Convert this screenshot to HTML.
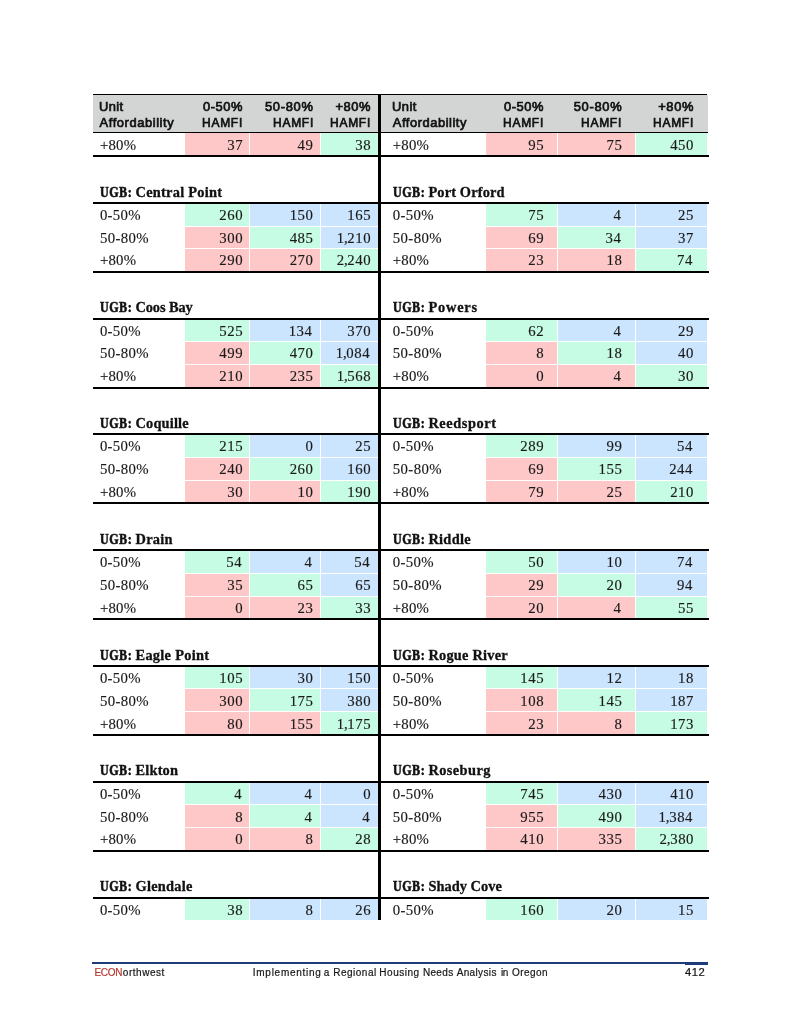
<!DOCTYPE html>
<html><head><meta charset="utf-8"><title>page 412</title>
<style>
html,body{margin:0;padding:0;background:#fff}
body{width:800px;height:1035px;position:relative;overflow:hidden;font-family:"Liberation Serif",serif;color:#1a1a1a}
#pg{position:absolute;left:0;top:0;width:800px;height:1035px;will-change:transform}
.b{position:absolute}
.t{position:absolute;white-space:nowrap;line-height:0;height:0}
.n{font-size:14.8px;-webkit-text-stroke:0.15px #1a1a1a}
.hd{font-size:14.4px;font-weight:bold;color:#111;-webkit-text-stroke:0.3px #111}
.hl{-webkit-text-stroke:0.35px #111}
.c{margin-left:-0.9px;margin-right:-0.8px}
.u{-webkit-text-stroke:0.6px #111}
.h{font-family:"Liberation Sans",sans-serif;font-size:12.9px;color:#111;-webkit-text-stroke:0.7px #111}
.f{font-family:"Liberation Sans",sans-serif;font-size:10.0px;color:#161616;-webkit-text-stroke:0.2px #161616}
.f span{-webkit-text-stroke:0.2px #b5382e}
</style></head><body><div id="pg">
<div class="b" style="left:93.00px;top:94.00px;width:285.00px;height:1.00px;background:#000"></div>
<div class="b" style="left:93.00px;top:95.00px;width:285.00px;height:37.00px;background:#d3d4d4"></div>
<div class="b" style="left:93.00px;top:132.00px;width:285.00px;height:1.00px;background:#000"></div>
<div class="b" style="left:185.00px;top:133.00px;width:64.00px;height:21.60px;background:#ffc8c8"></div>
<div class="b" style="left:250.00px;top:133.00px;width:70.00px;height:21.60px;background:#ffc8c8"></div>
<div class="b" style="left:321.00px;top:133.00px;width:57.00px;height:21.60px;background:#c6fce3"></div>
<div class="b" style="left:93.00px;top:155.00px;width:285.00px;height:2.00px;background:#000"></div>
<div class="b" style="left:93.00px;top:202.00px;width:285.00px;height:2.00px;background:#000"></div>
<div class="b" style="left:185.00px;top:204.00px;width:64.00px;height:22.00px;background:#c6fce3"></div>
<div class="b" style="left:250.00px;top:204.00px;width:70.00px;height:22.00px;background:#cce5ff"></div>
<div class="b" style="left:321.00px;top:204.00px;width:57.00px;height:22.00px;background:#cce5ff"></div>
<div class="b" style="left:185.00px;top:227.00px;width:64.00px;height:21.00px;background:#ffc8c8"></div>
<div class="b" style="left:250.00px;top:227.00px;width:70.00px;height:21.00px;background:#c6fce3"></div>
<div class="b" style="left:321.00px;top:227.00px;width:57.00px;height:21.00px;background:#cce5ff"></div>
<div class="b" style="left:185.00px;top:249.00px;width:64.00px;height:22.00px;background:#ffc8c8"></div>
<div class="b" style="left:250.00px;top:249.00px;width:70.00px;height:22.00px;background:#ffc8c8"></div>
<div class="b" style="left:321.00px;top:249.00px;width:57.00px;height:22.00px;background:#c6fce3"></div>
<div class="b" style="left:93.00px;top:271.00px;width:285.00px;height:2.00px;background:#000"></div>
<div class="b" style="left:93.00px;top:318.00px;width:285.00px;height:2.00px;background:#000"></div>
<div class="b" style="left:185.00px;top:320.00px;width:64.00px;height:21.00px;background:#c6fce3"></div>
<div class="b" style="left:250.00px;top:320.00px;width:70.00px;height:21.00px;background:#cce5ff"></div>
<div class="b" style="left:321.00px;top:320.00px;width:57.00px;height:21.00px;background:#cce5ff"></div>
<div class="b" style="left:185.00px;top:342.00px;width:64.00px;height:22.00px;background:#ffc8c8"></div>
<div class="b" style="left:250.00px;top:342.00px;width:70.00px;height:22.00px;background:#c6fce3"></div>
<div class="b" style="left:321.00px;top:342.00px;width:57.00px;height:22.00px;background:#cce5ff"></div>
<div class="b" style="left:185.00px;top:365.00px;width:64.00px;height:22.00px;background:#ffc8c8"></div>
<div class="b" style="left:250.00px;top:365.00px;width:70.00px;height:22.00px;background:#ffc8c8"></div>
<div class="b" style="left:321.00px;top:365.00px;width:57.00px;height:22.00px;background:#c6fce3"></div>
<div class="b" style="left:93.00px;top:387.00px;width:285.00px;height:2.00px;background:#000"></div>
<div class="b" style="left:93.00px;top:433.00px;width:285.00px;height:2.00px;background:#000"></div>
<div class="b" style="left:185.00px;top:435.00px;width:64.00px;height:22.00px;background:#c6fce3"></div>
<div class="b" style="left:250.00px;top:435.00px;width:70.00px;height:22.00px;background:#cce5ff"></div>
<div class="b" style="left:321.00px;top:435.00px;width:57.00px;height:22.00px;background:#cce5ff"></div>
<div class="b" style="left:185.00px;top:458.00px;width:64.00px;height:22.00px;background:#ffc8c8"></div>
<div class="b" style="left:250.00px;top:458.00px;width:70.00px;height:22.00px;background:#c6fce3"></div>
<div class="b" style="left:321.00px;top:458.00px;width:57.00px;height:22.00px;background:#cce5ff"></div>
<div class="b" style="left:185.00px;top:481.00px;width:64.00px;height:21.00px;background:#ffc8c8"></div>
<div class="b" style="left:250.00px;top:481.00px;width:70.00px;height:21.00px;background:#ffc8c8"></div>
<div class="b" style="left:321.00px;top:481.00px;width:57.00px;height:21.00px;background:#c6fce3"></div>
<div class="b" style="left:93.00px;top:502.00px;width:285.00px;height:2.00px;background:#000"></div>
<div class="b" style="left:93.00px;top:549.00px;width:285.00px;height:2.00px;background:#000"></div>
<div class="b" style="left:185.00px;top:551.00px;width:64.00px;height:22.00px;background:#c6fce3"></div>
<div class="b" style="left:250.00px;top:551.00px;width:70.00px;height:22.00px;background:#cce5ff"></div>
<div class="b" style="left:321.00px;top:551.00px;width:57.00px;height:22.00px;background:#cce5ff"></div>
<div class="b" style="left:185.00px;top:574.00px;width:64.00px;height:22.00px;background:#ffc8c8"></div>
<div class="b" style="left:250.00px;top:574.00px;width:70.00px;height:22.00px;background:#c6fce3"></div>
<div class="b" style="left:321.00px;top:574.00px;width:57.00px;height:22.00px;background:#cce5ff"></div>
<div class="b" style="left:185.00px;top:597.00px;width:64.00px;height:21.00px;background:#ffc8c8"></div>
<div class="b" style="left:250.00px;top:597.00px;width:70.00px;height:21.00px;background:#ffc8c8"></div>
<div class="b" style="left:321.00px;top:597.00px;width:57.00px;height:21.00px;background:#c6fce3"></div>
<div class="b" style="left:93.00px;top:618.00px;width:285.00px;height:2.00px;background:#000"></div>
<div class="b" style="left:93.00px;top:665.00px;width:285.00px;height:2.00px;background:#000"></div>
<div class="b" style="left:185.00px;top:667.00px;width:64.00px;height:21.00px;background:#c6fce3"></div>
<div class="b" style="left:250.00px;top:667.00px;width:70.00px;height:21.00px;background:#cce5ff"></div>
<div class="b" style="left:321.00px;top:667.00px;width:57.00px;height:21.00px;background:#cce5ff"></div>
<div class="b" style="left:185.00px;top:689.00px;width:64.00px;height:22.00px;background:#ffc8c8"></div>
<div class="b" style="left:250.00px;top:689.00px;width:70.00px;height:22.00px;background:#c6fce3"></div>
<div class="b" style="left:321.00px;top:689.00px;width:57.00px;height:22.00px;background:#cce5ff"></div>
<div class="b" style="left:185.00px;top:712.00px;width:64.00px;height:22.00px;background:#ffc8c8"></div>
<div class="b" style="left:250.00px;top:712.00px;width:70.00px;height:22.00px;background:#ffc8c8"></div>
<div class="b" style="left:321.00px;top:712.00px;width:57.00px;height:22.00px;background:#c6fce3"></div>
<div class="b" style="left:93.00px;top:734.00px;width:285.00px;height:2.00px;background:#000"></div>
<div class="b" style="left:93.00px;top:781.00px;width:285.00px;height:2.00px;background:#000"></div>
<div class="b" style="left:185.00px;top:783.00px;width:64.00px;height:21.00px;background:#c6fce3"></div>
<div class="b" style="left:250.00px;top:783.00px;width:70.00px;height:21.00px;background:#cce5ff"></div>
<div class="b" style="left:321.00px;top:783.00px;width:57.00px;height:21.00px;background:#cce5ff"></div>
<div class="b" style="left:185.00px;top:805.00px;width:64.00px;height:22.00px;background:#ffc8c8"></div>
<div class="b" style="left:250.00px;top:805.00px;width:70.00px;height:22.00px;background:#c6fce3"></div>
<div class="b" style="left:321.00px;top:805.00px;width:57.00px;height:22.00px;background:#cce5ff"></div>
<div class="b" style="left:185.00px;top:828.00px;width:64.00px;height:22.00px;background:#ffc8c8"></div>
<div class="b" style="left:250.00px;top:828.00px;width:70.00px;height:22.00px;background:#ffc8c8"></div>
<div class="b" style="left:321.00px;top:828.00px;width:57.00px;height:22.00px;background:#c6fce3"></div>
<div class="b" style="left:93.00px;top:850.00px;width:285.00px;height:2.00px;background:#000"></div>
<div class="b" style="left:93.00px;top:897.00px;width:285.00px;height:2.00px;background:#000"></div>
<div class="b" style="left:185.00px;top:899.00px;width:64.00px;height:21.00px;background:#c6fce3"></div>
<div class="b" style="left:250.00px;top:899.00px;width:70.00px;height:21.00px;background:#cce5ff"></div>
<div class="b" style="left:321.00px;top:899.00px;width:57.00px;height:21.00px;background:#cce5ff"></div>
<div class="b" style="left:381.00px;top:94.00px;width:326.00px;height:1.00px;background:#000"></div>
<div class="b" style="left:381.00px;top:95.00px;width:327.00px;height:37.00px;background:#d3d4d4"></div>
<div class="b" style="left:381.00px;top:132.00px;width:327.00px;height:1.00px;background:#000"></div>
<div class="b" style="left:486.00px;top:133.00px;width:71.00px;height:21.60px;background:#ffc8c8"></div>
<div class="b" style="left:558.00px;top:133.00px;width:77.00px;height:21.60px;background:#ffc8c8"></div>
<div class="b" style="left:636.00px;top:133.00px;width:71.00px;height:21.60px;background:#c6fce3"></div>
<div class="b" style="left:381.00px;top:155.00px;width:328.00px;height:2.00px;background:#000"></div>
<div class="b" style="left:381.00px;top:202.00px;width:328.00px;height:2.00px;background:#000"></div>
<div class="b" style="left:486.00px;top:204.00px;width:71.00px;height:22.00px;background:#c6fce3"></div>
<div class="b" style="left:558.00px;top:204.00px;width:77.00px;height:22.00px;background:#cce5ff"></div>
<div class="b" style="left:636.00px;top:204.00px;width:71.00px;height:22.00px;background:#cce5ff"></div>
<div class="b" style="left:486.00px;top:227.00px;width:71.00px;height:21.00px;background:#ffc8c8"></div>
<div class="b" style="left:558.00px;top:227.00px;width:77.00px;height:21.00px;background:#c6fce3"></div>
<div class="b" style="left:636.00px;top:227.00px;width:71.00px;height:21.00px;background:#cce5ff"></div>
<div class="b" style="left:486.00px;top:249.00px;width:71.00px;height:22.00px;background:#ffc8c8"></div>
<div class="b" style="left:558.00px;top:249.00px;width:77.00px;height:22.00px;background:#ffc8c8"></div>
<div class="b" style="left:636.00px;top:249.00px;width:71.00px;height:22.00px;background:#c6fce3"></div>
<div class="b" style="left:381.00px;top:271.00px;width:328.00px;height:2.00px;background:#000"></div>
<div class="b" style="left:381.00px;top:318.00px;width:328.00px;height:2.00px;background:#000"></div>
<div class="b" style="left:486.00px;top:320.00px;width:71.00px;height:21.00px;background:#c6fce3"></div>
<div class="b" style="left:558.00px;top:320.00px;width:77.00px;height:21.00px;background:#cce5ff"></div>
<div class="b" style="left:636.00px;top:320.00px;width:71.00px;height:21.00px;background:#cce5ff"></div>
<div class="b" style="left:486.00px;top:342.00px;width:71.00px;height:22.00px;background:#ffc8c8"></div>
<div class="b" style="left:558.00px;top:342.00px;width:77.00px;height:22.00px;background:#c6fce3"></div>
<div class="b" style="left:636.00px;top:342.00px;width:71.00px;height:22.00px;background:#cce5ff"></div>
<div class="b" style="left:486.00px;top:365.00px;width:71.00px;height:22.00px;background:#ffc8c8"></div>
<div class="b" style="left:558.00px;top:365.00px;width:77.00px;height:22.00px;background:#ffc8c8"></div>
<div class="b" style="left:636.00px;top:365.00px;width:71.00px;height:22.00px;background:#c6fce3"></div>
<div class="b" style="left:381.00px;top:387.00px;width:328.00px;height:2.00px;background:#000"></div>
<div class="b" style="left:381.00px;top:433.00px;width:328.00px;height:2.00px;background:#000"></div>
<div class="b" style="left:486.00px;top:435.00px;width:71.00px;height:22.00px;background:#c6fce3"></div>
<div class="b" style="left:558.00px;top:435.00px;width:77.00px;height:22.00px;background:#cce5ff"></div>
<div class="b" style="left:636.00px;top:435.00px;width:71.00px;height:22.00px;background:#cce5ff"></div>
<div class="b" style="left:486.00px;top:458.00px;width:71.00px;height:22.00px;background:#ffc8c8"></div>
<div class="b" style="left:558.00px;top:458.00px;width:77.00px;height:22.00px;background:#c6fce3"></div>
<div class="b" style="left:636.00px;top:458.00px;width:71.00px;height:22.00px;background:#cce5ff"></div>
<div class="b" style="left:486.00px;top:481.00px;width:71.00px;height:21.00px;background:#ffc8c8"></div>
<div class="b" style="left:558.00px;top:481.00px;width:77.00px;height:21.00px;background:#ffc8c8"></div>
<div class="b" style="left:636.00px;top:481.00px;width:71.00px;height:21.00px;background:#c6fce3"></div>
<div class="b" style="left:381.00px;top:502.00px;width:328.00px;height:2.00px;background:#000"></div>
<div class="b" style="left:381.00px;top:549.00px;width:328.00px;height:2.00px;background:#000"></div>
<div class="b" style="left:486.00px;top:551.00px;width:71.00px;height:22.00px;background:#c6fce3"></div>
<div class="b" style="left:558.00px;top:551.00px;width:77.00px;height:22.00px;background:#cce5ff"></div>
<div class="b" style="left:636.00px;top:551.00px;width:71.00px;height:22.00px;background:#cce5ff"></div>
<div class="b" style="left:486.00px;top:574.00px;width:71.00px;height:22.00px;background:#ffc8c8"></div>
<div class="b" style="left:558.00px;top:574.00px;width:77.00px;height:22.00px;background:#c6fce3"></div>
<div class="b" style="left:636.00px;top:574.00px;width:71.00px;height:22.00px;background:#cce5ff"></div>
<div class="b" style="left:486.00px;top:597.00px;width:71.00px;height:21.00px;background:#ffc8c8"></div>
<div class="b" style="left:558.00px;top:597.00px;width:77.00px;height:21.00px;background:#ffc8c8"></div>
<div class="b" style="left:636.00px;top:597.00px;width:71.00px;height:21.00px;background:#c6fce3"></div>
<div class="b" style="left:381.00px;top:618.00px;width:328.00px;height:2.00px;background:#000"></div>
<div class="b" style="left:381.00px;top:665.00px;width:328.00px;height:2.00px;background:#000"></div>
<div class="b" style="left:486.00px;top:667.00px;width:71.00px;height:21.00px;background:#c6fce3"></div>
<div class="b" style="left:558.00px;top:667.00px;width:77.00px;height:21.00px;background:#cce5ff"></div>
<div class="b" style="left:636.00px;top:667.00px;width:71.00px;height:21.00px;background:#cce5ff"></div>
<div class="b" style="left:486.00px;top:689.00px;width:71.00px;height:22.00px;background:#ffc8c8"></div>
<div class="b" style="left:558.00px;top:689.00px;width:77.00px;height:22.00px;background:#c6fce3"></div>
<div class="b" style="left:636.00px;top:689.00px;width:71.00px;height:22.00px;background:#cce5ff"></div>
<div class="b" style="left:486.00px;top:712.00px;width:71.00px;height:22.00px;background:#ffc8c8"></div>
<div class="b" style="left:558.00px;top:712.00px;width:77.00px;height:22.00px;background:#ffc8c8"></div>
<div class="b" style="left:636.00px;top:712.00px;width:71.00px;height:22.00px;background:#c6fce3"></div>
<div class="b" style="left:381.00px;top:734.00px;width:328.00px;height:2.00px;background:#000"></div>
<div class="b" style="left:381.00px;top:781.00px;width:328.00px;height:2.00px;background:#000"></div>
<div class="b" style="left:486.00px;top:783.00px;width:71.00px;height:21.00px;background:#c6fce3"></div>
<div class="b" style="left:558.00px;top:783.00px;width:77.00px;height:21.00px;background:#cce5ff"></div>
<div class="b" style="left:636.00px;top:783.00px;width:71.00px;height:21.00px;background:#cce5ff"></div>
<div class="b" style="left:486.00px;top:805.00px;width:71.00px;height:22.00px;background:#ffc8c8"></div>
<div class="b" style="left:558.00px;top:805.00px;width:77.00px;height:22.00px;background:#c6fce3"></div>
<div class="b" style="left:636.00px;top:805.00px;width:71.00px;height:22.00px;background:#cce5ff"></div>
<div class="b" style="left:486.00px;top:828.00px;width:71.00px;height:22.00px;background:#ffc8c8"></div>
<div class="b" style="left:558.00px;top:828.00px;width:77.00px;height:22.00px;background:#ffc8c8"></div>
<div class="b" style="left:636.00px;top:828.00px;width:71.00px;height:22.00px;background:#c6fce3"></div>
<div class="b" style="left:381.00px;top:850.00px;width:328.00px;height:2.00px;background:#000"></div>
<div class="b" style="left:381.00px;top:897.00px;width:328.00px;height:2.00px;background:#000"></div>
<div class="b" style="left:486.00px;top:899.00px;width:71.00px;height:21.00px;background:#c6fce3"></div>
<div class="b" style="left:558.00px;top:899.00px;width:77.00px;height:21.00px;background:#cce5ff"></div>
<div class="b" style="left:636.00px;top:899.00px;width:71.00px;height:21.00px;background:#cce5ff"></div>
<div class="b" style="left:378.00px;top:94.00px;width:3.00px;height:826.00px;background:#000"></div>
<div class="b" style="left:92.00px;top:962.00px;width:616.00px;height:1.50px;background:#1f3c7a"></div>
<div class="b" style="left:685.00px;top:962.00px;width:23.00px;height:3.00px;background:#1f3c7a"></div>
<div class="t h" style="left:98.90px;top:107.03px;letter-spacing:0.453px">Unit</div>
<div class="t h" style="left:99.50px;top:123.03px;letter-spacing:0.590px">Affordability</div>
<div class="t h hl" style="left:203.00px;top:107.03px;letter-spacing:0.550px">0-50%</div>
<div class="t h" style="left:202.27px;top:123.03px;transform:scaleX(0.93);transform-origin:0 0;letter-spacing:0.800px">HAMFI</div>
<div class="t h hl" style="left:264.90px;top:107.03px;letter-spacing:0.706px">50-80%</div>
<div class="t h" style="left:272.67px;top:123.03px;transform:scaleX(0.93);transform-origin:0 0;letter-spacing:0.800px">HAMFI</div>
<div class="t h hl" style="left:335.45px;top:107.03px;letter-spacing:0.595px">+80%</div>
<div class="t h" style="left:330.37px;top:123.03px;transform:scaleX(0.93);transform-origin:0 0;letter-spacing:0.800px">HAMFI</div>
<div class="t n" style="left:227.22px;top:145.00px;letter-spacing:0.580px">37</div>
<div class="t n" style="left:297.62px;top:145.00px;letter-spacing:0.580px">49</div>
<div class="t n" style="left:355.32px;top:145.00px;letter-spacing:0.580px">38</div>
<div class="t n" style="left:99.90px;top:145.00px;letter-spacing:0.219px">+80%</div>
<div class="t hd u" style="left:99.90px;top:192.14px;transform:scaleX(0.84);transform-origin:0 0;letter-spacing:0.573px">UGB:</div>
<div class="t hd" style="left:135.50px;top:192.14px;letter-spacing:0.251px">Central Point</div>
<div class="t n" style="left:219.24px;top:215.00px;letter-spacing:0.580px">260</div>
<div class="t n" style="left:289.64px;top:215.00px;letter-spacing:0.580px">150</div>
<div class="t n" style="left:347.34px;top:215.00px;letter-spacing:0.580px">165</div>
<div class="t n" style="left:99.90px;top:215.00px;letter-spacing:0.319px">0-50%</div>
<div class="t n" style="left:219.24px;top:238.00px;letter-spacing:0.580px">300</div>
<div class="t n" style="left:289.64px;top:238.00px;letter-spacing:0.580px">485</div>
<div class="t n" style="left:336.79px;top:238.00px;letter-spacing:0.580px">1<span class="c">,</span>210</div>
<div class="t n" style="left:99.90px;top:238.00px;letter-spacing:0.376px">50-80%</div>
<div class="t n" style="left:219.24px;top:260.00px;letter-spacing:0.580px">290</div>
<div class="t n" style="left:289.64px;top:260.00px;letter-spacing:0.580px">270</div>
<div class="t n" style="left:336.79px;top:260.00px;letter-spacing:0.580px">2<span class="c">,</span>240</div>
<div class="t n" style="left:99.90px;top:260.00px;letter-spacing:0.219px">+80%</div>
<div class="t hd u" style="left:99.90px;top:307.14px;transform:scaleX(0.84);transform-origin:0 0;letter-spacing:0.573px">UGB:</div>
<div class="t hd" style="left:135.50px;top:307.14px;letter-spacing:-0.111px">Coos Bay</div>
<div class="t n" style="left:219.24px;top:331.00px;letter-spacing:0.580px">525</div>
<div class="t n" style="left:288.64px;top:331.00px;letter-spacing:0.580px">134</div>
<div class="t n" style="left:347.34px;top:331.00px;letter-spacing:0.580px">370</div>
<div class="t n" style="left:99.90px;top:331.00px;letter-spacing:0.319px">0-50%</div>
<div class="t n" style="left:219.24px;top:353.00px;letter-spacing:0.580px">499</div>
<div class="t n" style="left:289.64px;top:353.00px;letter-spacing:0.580px">470</div>
<div class="t n" style="left:335.79px;top:353.00px;letter-spacing:0.580px">1<span class="c">,</span>084</div>
<div class="t n" style="left:99.90px;top:353.00px;letter-spacing:0.376px">50-80%</div>
<div class="t n" style="left:219.24px;top:376.00px;letter-spacing:0.580px">210</div>
<div class="t n" style="left:289.64px;top:376.00px;letter-spacing:0.580px">235</div>
<div class="t n" style="left:336.79px;top:376.00px;letter-spacing:0.580px">1<span class="c">,</span>568</div>
<div class="t n" style="left:99.90px;top:376.00px;letter-spacing:0.219px">+80%</div>
<div class="t hd u" style="left:99.90px;top:423.14px;transform:scaleX(0.84);transform-origin:0 0;letter-spacing:0.573px">UGB:</div>
<div class="t hd" style="left:135.50px;top:423.14px;letter-spacing:0.166px">Coquille</div>
<div class="t n" style="left:219.24px;top:446.00px;letter-spacing:0.580px">215</div>
<div class="t n" style="left:305.60px;top:446.00px;letter-spacing:0.580px">0</div>
<div class="t n" style="left:355.32px;top:446.00px;letter-spacing:0.580px">25</div>
<div class="t n" style="left:99.90px;top:446.00px;letter-spacing:0.319px">0-50%</div>
<div class="t n" style="left:219.24px;top:469.00px;letter-spacing:0.580px">240</div>
<div class="t n" style="left:289.64px;top:469.00px;letter-spacing:0.580px">260</div>
<div class="t n" style="left:347.34px;top:469.00px;letter-spacing:0.580px">160</div>
<div class="t n" style="left:99.90px;top:469.00px;letter-spacing:0.376px">50-80%</div>
<div class="t n" style="left:227.22px;top:492.00px;letter-spacing:0.580px">30</div>
<div class="t n" style="left:297.62px;top:492.00px;letter-spacing:0.580px">10</div>
<div class="t n" style="left:347.34px;top:492.00px;letter-spacing:0.580px">190</div>
<div class="t n" style="left:99.90px;top:492.00px;letter-spacing:0.219px">+80%</div>
<div class="t hd u" style="left:99.90px;top:539.14px;transform:scaleX(0.84);transform-origin:0 0;letter-spacing:0.573px">UGB:</div>
<div class="t hd" style="left:135.50px;top:539.14px;letter-spacing:0.257px">Drain</div>
<div class="t n" style="left:226.22px;top:562.00px;letter-spacing:0.580px">54</div>
<div class="t n" style="left:304.60px;top:562.00px;letter-spacing:0.580px">4</div>
<div class="t n" style="left:354.32px;top:562.00px;letter-spacing:0.580px">54</div>
<div class="t n" style="left:99.90px;top:562.00px;letter-spacing:0.319px">0-50%</div>
<div class="t n" style="left:227.22px;top:585.00px;letter-spacing:0.580px">35</div>
<div class="t n" style="left:297.62px;top:585.00px;letter-spacing:0.580px">65</div>
<div class="t n" style="left:355.32px;top:585.00px;letter-spacing:0.580px">65</div>
<div class="t n" style="left:99.90px;top:585.00px;letter-spacing:0.376px">50-80%</div>
<div class="t n" style="left:235.20px;top:608.00px;letter-spacing:0.580px">0</div>
<div class="t n" style="left:297.62px;top:608.00px;letter-spacing:0.580px">23</div>
<div class="t n" style="left:355.32px;top:608.00px;letter-spacing:0.580px">33</div>
<div class="t n" style="left:99.90px;top:608.00px;letter-spacing:0.219px">+80%</div>
<div class="t hd u" style="left:99.90px;top:655.14px;transform:scaleX(0.84);transform-origin:0 0;letter-spacing:0.573px">UGB:</div>
<div class="t hd" style="left:135.50px;top:655.14px;letter-spacing:0.279px">Eagle Point</div>
<div class="t n" style="left:219.24px;top:678.00px;letter-spacing:0.580px">105</div>
<div class="t n" style="left:297.62px;top:678.00px;letter-spacing:0.580px">30</div>
<div class="t n" style="left:347.34px;top:678.00px;letter-spacing:0.580px">150</div>
<div class="t n" style="left:99.90px;top:678.00px;letter-spacing:0.319px">0-50%</div>
<div class="t n" style="left:219.24px;top:701.00px;letter-spacing:0.580px">300</div>
<div class="t n" style="left:289.64px;top:701.00px;letter-spacing:0.580px">175</div>
<div class="t n" style="left:347.34px;top:701.00px;letter-spacing:0.580px">380</div>
<div class="t n" style="left:99.90px;top:701.00px;letter-spacing:0.376px">50-80%</div>
<div class="t n" style="left:227.22px;top:724.00px;letter-spacing:0.580px">80</div>
<div class="t n" style="left:289.64px;top:724.00px;letter-spacing:0.580px">155</div>
<div class="t n" style="left:336.79px;top:724.00px;letter-spacing:0.580px">1<span class="c">,</span>175</div>
<div class="t n" style="left:99.90px;top:724.00px;letter-spacing:0.219px">+80%</div>
<div class="t hd u" style="left:99.90px;top:770.14px;transform:scaleX(0.84);transform-origin:0 0;letter-spacing:0.573px">UGB:</div>
<div class="t hd" style="left:135.50px;top:770.14px;letter-spacing:0.182px">Elkton</div>
<div class="t n" style="left:234.20px;top:794.00px;letter-spacing:0.580px">4</div>
<div class="t n" style="left:304.60px;top:794.00px;letter-spacing:0.580px">4</div>
<div class="t n" style="left:363.30px;top:794.00px;letter-spacing:0.580px">0</div>
<div class="t n" style="left:99.90px;top:794.00px;letter-spacing:0.319px">0-50%</div>
<div class="t n" style="left:235.20px;top:817.00px;letter-spacing:0.580px">8</div>
<div class="t n" style="left:304.60px;top:817.00px;letter-spacing:0.580px">4</div>
<div class="t n" style="left:362.30px;top:817.00px;letter-spacing:0.580px">4</div>
<div class="t n" style="left:99.90px;top:817.00px;letter-spacing:0.376px">50-80%</div>
<div class="t n" style="left:235.20px;top:839.00px;letter-spacing:0.580px">0</div>
<div class="t n" style="left:305.60px;top:839.00px;letter-spacing:0.580px">8</div>
<div class="t n" style="left:355.32px;top:839.00px;letter-spacing:0.580px">28</div>
<div class="t n" style="left:99.90px;top:839.00px;letter-spacing:0.219px">+80%</div>
<div class="t hd u" style="left:99.90px;top:886.14px;transform:scaleX(0.84);transform-origin:0 0;letter-spacing:0.573px">UGB:</div>
<div class="t hd" style="left:135.50px;top:886.14px;letter-spacing:0.246px">Glendale</div>
<div class="t n" style="left:227.22px;top:910.00px;letter-spacing:0.580px">38</div>
<div class="t n" style="left:305.60px;top:910.00px;letter-spacing:0.580px">8</div>
<div class="t n" style="left:355.32px;top:910.00px;letter-spacing:0.580px">26</div>
<div class="t n" style="left:99.90px;top:910.00px;letter-spacing:0.319px">0-50%</div>
<div class="t h" style="left:392.00px;top:107.03px;letter-spacing:0.469px">Unit</div>
<div class="t h" style="left:392.75px;top:123.03px;letter-spacing:0.548px">Affordability</div>
<div class="t h hl" style="left:504.00px;top:107.03px;letter-spacing:0.550px">0-50%</div>
<div class="t h" style="left:503.27px;top:123.03px;transform:scaleX(0.93);transform-origin:0 0;letter-spacing:0.800px">HAMFI</div>
<div class="t h hl" style="left:573.70px;top:107.03px;letter-spacing:0.706px">50-80%</div>
<div class="t h" style="left:581.47px;top:123.03px;transform:scaleX(0.93);transform-origin:0 0;letter-spacing:0.800px">HAMFI</div>
<div class="t h hl" style="left:658.25px;top:107.03px;letter-spacing:0.595px">+80%</div>
<div class="t h" style="left:653.17px;top:123.03px;transform:scaleX(0.93);transform-origin:0 0;letter-spacing:0.800px">HAMFI</div>
<div class="t n" style="left:528.22px;top:145.00px;letter-spacing:0.580px">95</div>
<div class="t n" style="left:606.42px;top:145.00px;letter-spacing:0.580px">75</div>
<div class="t n" style="left:670.14px;top:145.00px;letter-spacing:0.580px">450</div>
<div class="t n" style="left:392.80px;top:145.00px;letter-spacing:0.219px">+80%</div>
<div class="t hd u" style="left:392.80px;top:192.14px;transform:scaleX(0.84);transform-origin:0 0;letter-spacing:0.573px">UGB:</div>
<div class="t hd" style="left:428.40px;top:192.14px;letter-spacing:0.138px">Port Orford</div>
<div class="t n" style="left:528.22px;top:215.00px;letter-spacing:0.580px">75</div>
<div class="t n" style="left:613.40px;top:215.00px;letter-spacing:0.580px">4</div>
<div class="t n" style="left:678.12px;top:215.00px;letter-spacing:0.580px">25</div>
<div class="t n" style="left:392.80px;top:215.00px;letter-spacing:0.319px">0-50%</div>
<div class="t n" style="left:528.22px;top:238.00px;letter-spacing:0.580px">69</div>
<div class="t n" style="left:605.42px;top:238.00px;letter-spacing:0.580px">34</div>
<div class="t n" style="left:678.12px;top:238.00px;letter-spacing:0.580px">37</div>
<div class="t n" style="left:392.80px;top:238.00px;letter-spacing:0.376px">50-80%</div>
<div class="t n" style="left:528.22px;top:260.00px;letter-spacing:0.580px">23</div>
<div class="t n" style="left:606.42px;top:260.00px;letter-spacing:0.580px">18</div>
<div class="t n" style="left:677.12px;top:260.00px;letter-spacing:0.580px">74</div>
<div class="t n" style="left:392.80px;top:260.00px;letter-spacing:0.219px">+80%</div>
<div class="t hd u" style="left:392.80px;top:307.14px;transform:scaleX(0.84);transform-origin:0 0;letter-spacing:0.573px">UGB:</div>
<div class="t hd" style="left:428.40px;top:307.14px;letter-spacing:0.789px">Powers</div>
<div class="t n" style="left:528.22px;top:331.00px;letter-spacing:0.580px">62</div>
<div class="t n" style="left:613.40px;top:331.00px;letter-spacing:0.580px">4</div>
<div class="t n" style="left:678.12px;top:331.00px;letter-spacing:0.580px">29</div>
<div class="t n" style="left:392.80px;top:331.00px;letter-spacing:0.319px">0-50%</div>
<div class="t n" style="left:536.20px;top:353.00px;letter-spacing:0.580px">8</div>
<div class="t n" style="left:606.42px;top:353.00px;letter-spacing:0.580px">18</div>
<div class="t n" style="left:678.12px;top:353.00px;letter-spacing:0.580px">40</div>
<div class="t n" style="left:392.80px;top:353.00px;letter-spacing:0.376px">50-80%</div>
<div class="t n" style="left:536.20px;top:376.00px;letter-spacing:0.580px">0</div>
<div class="t n" style="left:613.40px;top:376.00px;letter-spacing:0.580px">4</div>
<div class="t n" style="left:678.12px;top:376.00px;letter-spacing:0.580px">30</div>
<div class="t n" style="left:392.80px;top:376.00px;letter-spacing:0.219px">+80%</div>
<div class="t hd u" style="left:392.80px;top:423.14px;transform:scaleX(0.84);transform-origin:0 0;letter-spacing:0.573px">UGB:</div>
<div class="t hd" style="left:428.40px;top:423.14px;letter-spacing:0.562px">Reedsport</div>
<div class="t n" style="left:520.24px;top:446.00px;letter-spacing:0.580px">289</div>
<div class="t n" style="left:606.42px;top:446.00px;letter-spacing:0.580px">99</div>
<div class="t n" style="left:677.12px;top:446.00px;letter-spacing:0.580px">54</div>
<div class="t n" style="left:392.80px;top:446.00px;letter-spacing:0.319px">0-50%</div>
<div class="t n" style="left:528.22px;top:469.00px;letter-spacing:0.580px">69</div>
<div class="t n" style="left:598.44px;top:469.00px;letter-spacing:0.580px">155</div>
<div class="t n" style="left:669.14px;top:469.00px;letter-spacing:0.580px">244</div>
<div class="t n" style="left:392.80px;top:469.00px;letter-spacing:0.376px">50-80%</div>
<div class="t n" style="left:528.22px;top:492.00px;letter-spacing:0.580px">79</div>
<div class="t n" style="left:606.42px;top:492.00px;letter-spacing:0.580px">25</div>
<div class="t n" style="left:670.14px;top:492.00px;letter-spacing:0.580px">210</div>
<div class="t n" style="left:392.80px;top:492.00px;letter-spacing:0.219px">+80%</div>
<div class="t hd u" style="left:392.80px;top:539.14px;transform:scaleX(0.84);transform-origin:0 0;letter-spacing:0.573px">UGB:</div>
<div class="t hd" style="left:428.40px;top:539.14px;letter-spacing:0.291px">Riddle</div>
<div class="t n" style="left:528.22px;top:562.00px;letter-spacing:0.580px">50</div>
<div class="t n" style="left:606.42px;top:562.00px;letter-spacing:0.580px">10</div>
<div class="t n" style="left:677.12px;top:562.00px;letter-spacing:0.580px">74</div>
<div class="t n" style="left:392.80px;top:562.00px;letter-spacing:0.319px">0-50%</div>
<div class="t n" style="left:528.22px;top:585.00px;letter-spacing:0.580px">29</div>
<div class="t n" style="left:606.42px;top:585.00px;letter-spacing:0.580px">20</div>
<div class="t n" style="left:677.12px;top:585.00px;letter-spacing:0.580px">94</div>
<div class="t n" style="left:392.80px;top:585.00px;letter-spacing:0.376px">50-80%</div>
<div class="t n" style="left:528.22px;top:608.00px;letter-spacing:0.580px">20</div>
<div class="t n" style="left:613.40px;top:608.00px;letter-spacing:0.580px">4</div>
<div class="t n" style="left:678.12px;top:608.00px;letter-spacing:0.580px">55</div>
<div class="t n" style="left:392.80px;top:608.00px;letter-spacing:0.219px">+80%</div>
<div class="t hd u" style="left:392.80px;top:655.14px;transform:scaleX(0.84);transform-origin:0 0;letter-spacing:0.573px">UGB:</div>
<div class="t hd" style="left:428.40px;top:655.14px;letter-spacing:0.211px">Rogue River</div>
<div class="t n" style="left:520.24px;top:678.00px;letter-spacing:0.580px">145</div>
<div class="t n" style="left:606.42px;top:678.00px;letter-spacing:0.580px">12</div>
<div class="t n" style="left:678.12px;top:678.00px;letter-spacing:0.580px">18</div>
<div class="t n" style="left:392.80px;top:678.00px;letter-spacing:0.319px">0-50%</div>
<div class="t n" style="left:520.24px;top:701.00px;letter-spacing:0.580px">108</div>
<div class="t n" style="left:598.44px;top:701.00px;letter-spacing:0.580px">145</div>
<div class="t n" style="left:670.14px;top:701.00px;letter-spacing:0.580px">187</div>
<div class="t n" style="left:392.80px;top:701.00px;letter-spacing:0.376px">50-80%</div>
<div class="t n" style="left:528.22px;top:724.00px;letter-spacing:0.580px">23</div>
<div class="t n" style="left:614.40px;top:724.00px;letter-spacing:0.580px">8</div>
<div class="t n" style="left:670.14px;top:724.00px;letter-spacing:0.580px">173</div>
<div class="t n" style="left:392.80px;top:724.00px;letter-spacing:0.219px">+80%</div>
<div class="t hd u" style="left:392.80px;top:770.14px;transform:scaleX(0.84);transform-origin:0 0;letter-spacing:0.573px">UGB:</div>
<div class="t hd" style="left:428.40px;top:770.14px;letter-spacing:0.412px">Roseburg</div>
<div class="t n" style="left:520.24px;top:794.00px;letter-spacing:0.580px">745</div>
<div class="t n" style="left:598.44px;top:794.00px;letter-spacing:0.580px">430</div>
<div class="t n" style="left:670.14px;top:794.00px;letter-spacing:0.580px">410</div>
<div class="t n" style="left:392.80px;top:794.00px;letter-spacing:0.319px">0-50%</div>
<div class="t n" style="left:520.24px;top:817.00px;letter-spacing:0.580px">955</div>
<div class="t n" style="left:598.44px;top:817.00px;letter-spacing:0.580px">490</div>
<div class="t n" style="left:658.59px;top:817.00px;letter-spacing:0.580px">1<span class="c">,</span>384</div>
<div class="t n" style="left:392.80px;top:817.00px;letter-spacing:0.376px">50-80%</div>
<div class="t n" style="left:520.24px;top:839.00px;letter-spacing:0.580px">410</div>
<div class="t n" style="left:598.44px;top:839.00px;letter-spacing:0.580px">335</div>
<div class="t n" style="left:659.59px;top:839.00px;letter-spacing:0.580px">2<span class="c">,</span>380</div>
<div class="t n" style="left:392.80px;top:839.00px;letter-spacing:0.219px">+80%</div>
<div class="t hd u" style="left:392.80px;top:886.14px;transform:scaleX(0.84);transform-origin:0 0;letter-spacing:0.573px">UGB:</div>
<div class="t hd" style="left:428.40px;top:886.14px;letter-spacing:0.035px">Shady Cove</div>
<div class="t n" style="left:520.24px;top:910.00px;letter-spacing:0.580px">160</div>
<div class="t n" style="left:606.42px;top:910.00px;letter-spacing:0.580px">20</div>
<div class="t n" style="left:678.12px;top:910.00px;letter-spacing:0.580px">15</div>
<div class="t n" style="left:392.80px;top:910.00px;letter-spacing:0.319px">0-50%</div>
<div class="t f" style="left:94.50px;top:973.03px;letter-spacing:-0.323px"><span style="color:#b5382e">ECON</span></div>
<div class="t f" style="left:122.80px;top:973.03px;letter-spacing:0.526px">orthwest</div>
<div class="t f" style="left:252.80px;top:973.03px;letter-spacing:0.730px">Implementing</div>
<div class="t f" style="left:323.80px;top:973.03px">a</div>
<div class="t f" style="left:333.20px;top:973.03px;letter-spacing:0.507px">Regional</div>
<div class="t f" style="left:379.30px;top:973.03px;letter-spacing:0.529px">Housing</div>
<div class="t f" style="left:422.90px;top:973.03px;letter-spacing:0.348px">Needs</div>
<div class="t f" style="left:456.70px;top:973.03px;letter-spacing:0.352px">Analysis</div>
<div class="t f" style="left:501.10px;top:973.03px;letter-spacing:-0.622px">in</div>
<div class="t f" style="left:512.10px;top:973.03px;letter-spacing:0.441px">Oregon</div>
<div class="t f" style="left:685.20px;top:973.03px;transform:scaleX(1.12);transform-origin:0 0;letter-spacing:0.501px">412</div>
</div></body></html>
